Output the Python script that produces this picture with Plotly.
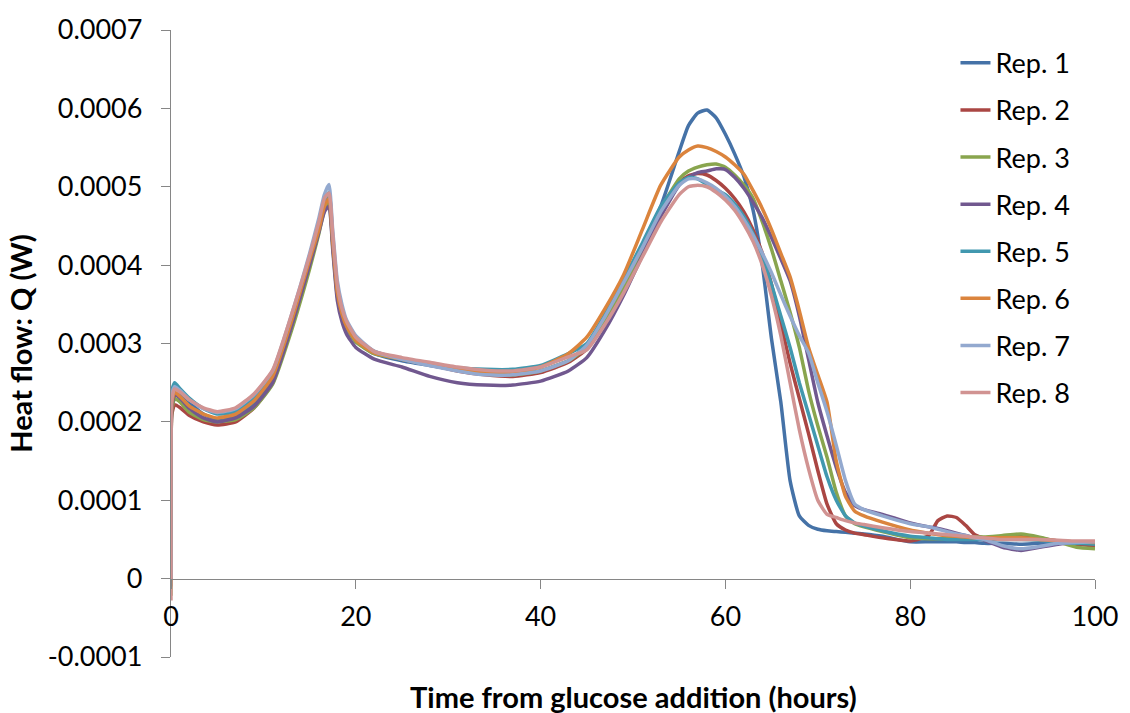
import plotly.graph_objects as go

# Time (hours) from glucose addition
time_h = [0, 0.1, 0.4, 1, 2, 3.5, 5, 7, 9, 11, 13, 15, 16, 16.6, 17.1, 17.5, 18, 18.5, 19, 20,
          22, 25, 28, 31, 34, 37, 40, 43, 45, 47, 49, 51, 53, 55, 56, 57, 58, 59, 60, 61,
          62, 63, 64, 65, 66, 67, 68, 69, 70, 71, 72, 73, 74, 75, 77, 80, 82, 83, 84, 85,
          86, 87, 88, 90, 92, 94, 96, 98, 100]

# Heat flow values (W)
rep1 = [0, 2.3e-4, 2.45e-4, 2.38e-4, 2.25e-4, 2.1e-4, 2.03e-4, 2.07e-4, 2.24e-4, 2.55e-4, 3.25e-4, 4.05e-4, 4.48e-4, 4.78e-4, 4.9e-4, 4.3e-4, 3.65e-4, 3.38e-4, 3.22e-4, 3.03e-4,
        2.87e-4, 2.78e-4, 2.72e-4, 2.66e-4, 2.61e-4, 2.6e-4, 2.65e-4, 2.78e-4, 2.98e-4, 3.35e-4, 3.8e-4, 4.25e-4, 4.75e-4, 5.45e-4, 5.78e-4, 5.94e-4, 5.98e-4, 5.88e-4, 5.67e-4, 5.42e-4,
        5.13e-4, 4.7e-4, 4.0e-4, 3.05e-4, 2.25e-4, 1.25e-4, 0.8e-4, 0.68e-4, 0.63e-4, 0.61e-4, 0.6e-4, 0.59e-4, 0.58e-4, 0.57e-4, 0.54e-4, 0.47e-4, 0.47e-4, 0.47e-4, 0.47e-4, 0.47e-4,
        0.46e-4, 0.46e-4, 0.45e-4, 0.45e-4, 0.44e-4, 0.45e-4, 0.45e-4, 0.46e-4, 0.47e-4]
rep2 = [-0.1e-4, 2.1e-4, 2.22e-4, 2.18e-4, 2.08e-4, 2.0e-4, 1.96e-4, 2.0e-4, 2.18e-4, 2.5e-4, 3.2e-4, 4.0e-4, 4.45e-4, 4.75e-4, 4.85e-4, 4.3e-4, 3.65e-4, 3.38e-4, 3.22e-4, 3.03e-4,
        2.88e-4, 2.8e-4, 2.73e-4, 2.65e-4, 2.6e-4, 2.58e-4, 2.63e-4, 2.76e-4, 2.93e-4, 3.28e-4, 3.72e-4, 4.2e-4, 4.72e-4, 5.05e-4, 5.14e-4, 5.17e-4, 5.15e-4, 5.08e-4, 4.98e-4, 4.85e-4,
        4.68e-4, 4.45e-4, 4.15e-4, 3.75e-4, 3.25e-4, 2.75e-4, 2.3e-4, 1.85e-4, 1.38e-4, 0.95e-4, 0.7e-4, 0.62e-4, 0.58e-4, 0.56e-4, 0.52e-4, 0.48e-4, 0.55e-4, 0.74e-4, 0.8e-4, 0.78e-4,
        0.68e-4, 0.56e-4, 0.52e-4, 0.53e-4, 0.55e-4, 0.52e-4, 0.48e-4, 0.44e-4, 0.42e-4]
rep3 = [-0.22e-4, 2.15e-4, 2.3e-4, 2.25e-4, 2.12e-4, 2.03e-4, 2.0e-4, 2.03e-4, 2.18e-4, 2.48e-4, 3.15e-4, 3.95e-4, 4.4e-4, 4.7e-4, 4.8e-4, 4.25e-4, 3.6e-4, 3.35e-4, 3.2e-4, 3.02e-4,
        2.87e-4, 2.8e-4, 2.73e-4, 2.66e-4, 2.61e-4, 2.6e-4, 2.65e-4, 2.78e-4, 2.95e-4, 3.3e-4, 3.72e-4, 4.2e-4, 4.72e-4, 5.1e-4, 5.2e-4, 5.25e-4, 5.28e-4, 5.29e-4, 5.25e-4, 5.15e-4,
        5.02e-4, 4.85e-4, 4.55e-4, 4.2e-4, 3.8e-4, 3.4e-4, 2.95e-4, 2.4e-4, 1.95e-4, 1.55e-4, 1.1e-4, 0.8e-4, 0.7e-4, 0.66e-4, 0.6e-4, 0.52e-4, 0.51e-4, 0.51e-4, 0.51e-4, 0.51e-4,
        0.52e-4, 0.53e-4, 0.53e-4, 0.55e-4, 0.57e-4, 0.53e-4, 0.47e-4, 0.4e-4, 0.38e-4]
rep4 = [0, 2.2e-4, 2.35e-4, 2.3e-4, 2.17e-4, 2.05e-4, 2.0e-4, 2.05e-4, 2.2e-4, 2.5e-4, 3.2e-4, 4.0e-4, 4.42e-4, 4.68e-4, 4.75e-4, 4.2e-4, 3.55e-4, 3.28e-4, 3.12e-4, 2.95e-4,
        2.8e-4, 2.7e-4, 2.58e-4, 2.5e-4, 2.47e-4, 2.47e-4, 2.52e-4, 2.65e-4, 2.82e-4, 3.18e-4, 3.62e-4, 4.12e-4, 4.62e-4, 5.02e-4, 5.12e-4, 5.18e-4, 5.2e-4, 5.23e-4, 5.22e-4, 5.12e-4,
        4.98e-4, 4.8e-4, 4.6e-4, 4.35e-4, 4.08e-4, 3.8e-4, 3.35e-4, 2.8e-4, 2.25e-4, 1.82e-4, 1.42e-4, 1.1e-4, 0.93e-4, 0.88e-4, 0.82e-4, 0.71e-4, 0.66e-4, 0.64e-4, 0.61e-4, 0.58e-4,
        0.55e-4, 0.52e-4, 0.49e-4, 0.4e-4, 0.36e-4, 0.4e-4, 0.44e-4, 0.46e-4, 0.47e-4]
rep5 = [0, 2.4e-4, 2.5e-4, 2.42e-4, 2.3e-4, 2.17e-4, 2.1e-4, 2.13e-4, 2.3e-4, 2.6e-4, 3.3e-4, 4.1e-4, 4.5e-4, 4.8e-4, 4.93e-4, 4.35e-4, 3.7e-4, 3.4e-4, 3.25e-4, 3.06e-4,
        2.9e-4, 2.8e-4, 2.74e-4, 2.69e-4, 2.67e-4, 2.67e-4, 2.72e-4, 2.87e-4, 3.0e-4, 3.38e-4, 3.82e-4, 4.28e-4, 4.75e-4, 5.05e-4, 5.12e-4, 5.1e-4, 5.03e-4, 4.96e-4, 4.9e-4, 4.78e-4,
        4.62e-4, 4.4e-4, 4.1e-4, 3.75e-4, 3.35e-4, 2.95e-4, 2.5e-4, 2.1e-4, 1.7e-4, 1.3e-4, 1.0e-4, 0.8e-4, 0.71e-4, 0.67e-4, 0.61e-4, 0.54e-4, 0.52e-4, 0.51e-4, 0.5e-4, 0.5e-4,
        0.5e-4, 0.5e-4, 0.5e-4, 0.5e-4, 0.5e-4, 0.49e-4, 0.47e-4, 0.45e-4, 0.44e-4]
rep6 = [0, 2.25e-4, 2.38e-4, 2.32e-4, 2.2e-4, 2.1e-4, 2.05e-4, 2.1e-4, 2.27e-4, 2.58e-4, 3.27e-4, 4.07e-4, 4.45e-4, 4.75e-4, 4.85e-4, 4.3e-4, 3.65e-4, 3.38e-4, 3.22e-4, 3.04e-4,
        2.88e-4, 2.8e-4, 2.73e-4, 2.67e-4, 2.63e-4, 2.63e-4, 2.7e-4, 2.87e-4, 3.08e-4, 3.45e-4, 3.88e-4, 4.45e-4, 5.02e-4, 5.38e-4, 5.47e-4, 5.52e-4, 5.5e-4, 5.45e-4, 5.38e-4, 5.28e-4,
        5.16e-4, 4.95e-4, 4.72e-4, 4.45e-4, 4.15e-4, 3.85e-4, 3.42e-4, 2.95e-4, 2.6e-4, 2.25e-4, 1.5e-4, 1.05e-4, 0.86e-4, 0.8e-4, 0.72e-4, 0.62e-4, 0.58e-4, 0.56e-4, 0.55e-4, 0.54e-4,
        0.53e-4, 0.52e-4, 0.52e-4, 0.52e-4, 0.52e-4, 0.5e-4, 0.48e-4, 0.47e-4, 0.46e-4]
rep7 = [0, 2.35e-4, 2.45e-4, 2.4e-4, 2.28e-4, 2.17e-4, 2.12e-4, 2.17e-4, 2.35e-4, 2.65e-4, 3.35e-4, 4.15e-4, 4.6e-4, 4.9e-4, 5.03e-4, 4.45e-4, 3.8e-4, 3.5e-4, 3.3e-4, 3.1e-4,
        2.9e-4, 2.8e-4, 2.72e-4, 2.65e-4, 2.6e-4, 2.6e-4, 2.65e-4, 2.78e-4, 2.98e-4, 3.35e-4, 3.78e-4, 4.22e-4, 4.68e-4, 5.02e-4, 5.1e-4, 5.1e-4, 5.05e-4, 4.98e-4, 4.88e-4, 4.75e-4,
        4.58e-4, 4.38e-4, 4.15e-4, 3.9e-4, 3.62e-4, 3.35e-4, 3.1e-4, 2.88e-4, 2.5e-4, 2.13e-4, 1.7e-4, 1.25e-4, 0.95e-4, 0.88e-4, 0.8e-4, 0.7e-4, 0.66e-4, 0.63e-4, 0.6e-4, 0.57e-4,
        0.55e-4, 0.52e-4, 0.5e-4, 0.42e-4, 0.38e-4, 0.41e-4, 0.45e-4, 0.46e-4, 0.47e-4]
rep8 = [-0.28e-4, 2.3e-4, 2.42e-4, 2.38e-4, 2.28e-4, 2.18e-4, 2.13e-4, 2.18e-4, 2.36e-4, 2.66e-4, 3.35e-4, 4.12e-4, 4.55e-4, 4.85e-4, 4.92e-4, 4.4e-4, 3.75e-4, 3.45e-4, 3.28e-4, 3.08e-4,
        2.9e-4, 2.82e-4, 2.76e-4, 2.7e-4, 2.66e-4, 2.65e-4, 2.7e-4, 2.83e-4, 2.92e-4, 3.25e-4, 3.65e-4, 4.1e-4, 4.55e-4, 4.9e-4, 5.0e-4, 5.02e-4, 5.0e-4, 4.93e-4, 4.83e-4, 4.7e-4,
        4.52e-4, 4.3e-4, 4.0e-4, 3.6e-4, 3.1e-4, 2.5e-4, 1.9e-4, 1.4e-4, 1.0e-4, 0.82e-4, 0.78e-4, 0.74e-4, 0.71e-4, 0.69e-4, 0.65e-4, 0.6e-4, 0.58e-4, 0.57e-4, 0.56e-4, 0.55e-4,
        0.54e-4, 0.53e-4, 0.52e-4, 0.5e-4, 0.5e-4, 0.5e-4, 0.49e-4, 0.48e-4, 0.48e-4]

series_names = ["Rep. 1", "Rep. 2", "Rep. 3", "Rep. 4", "Rep. 5", "Rep. 6", "Rep. 7", "Rep. 8"]
series_values = [rep1, rep2, rep3, rep4, rep5, rep6, rep7, rep8]
colors = ["#4572A7", "#AA4643", "#89A54E", "#71588F", "#4198AF", "#DB843D", "#93A9CF", "#D19392"]

y_tickvals = [-0.0001, 0, 0.0001, 0.0002, 0.0003, 0.0004, 0.0005, 0.0006, 0.0007]
y_ticktext = ["-0.0001", "0", "0.0001", "0.0002", "0.0003", "0.0004", "0.0005", "0.0006", "0.0007"]
x_tickvals = [0, 20, 40, 60, 80, 100]

FONT = "Lato"
AXIS_COLOR = "#868686"

fig = go.Figure()
for name, vals, col in zip(series_names, series_values, colors):
    fig.add_trace(go.Scatter(x=time_h, y=vals, mode="lines", name=name,
                             legendgroup=name,
                             line=dict(color=col, width=3.5, shape="spline", smoothing=0.5)))

fig.update_layout(
    width=1130, height=713,
    margin=dict(l=171, r=27, t=24, b=56),
    paper_bgcolor="white", plot_bgcolor="white",
    font=dict(family=FONT, size=27, color="black"),
    showlegend=True,
    legend=dict(x=0.849, y=0.986, xanchor="left", yanchor="top",
                font=dict(family=FONT, size=27, color="black"),
                tracegroupgap=9, bgcolor="rgba(0,0,0,0)"),
    xaxis=dict(range=[0, 100], tickvals=x_tickvals, showgrid=False, zeroline=False,
               showline=True, linecolor=AXIS_COLOR, linewidth=1.3,
               ticks="outside", ticklen=9, tickcolor=AXIS_COLOR, tickwidth=1.3,
               anchor="free", position=0.125, ticklabelstandoff=5,
               tickfont=dict(family=FONT, size=27, color="black")),
    yaxis=dict(range=[-0.0001, 0.0007], tickvals=y_tickvals, ticktext=y_ticktext,
               showgrid=False, zeroline=False,
               showline=True, linecolor=AXIS_COLOR, linewidth=1.3,
               ticks="outside", ticklen=9, tickcolor=AXIS_COLOR, tickwidth=1.3,
               ticklabelstandoff=13,
               tickfont=dict(family=FONT, size=27, color="black"),
               title=dict(text="<b>Heat flow: Q (W)</b>", standoff=6,
                          font=dict(family=FONT, size=29, color="black"))),
    annotations=[dict(text="<b>Time from glucose addition (hours)</b>", xref="paper", yref="paper",
                      x=0.5, y=-0.063, xanchor="center", yanchor="middle", showarrow=False,
                      font=dict(family=FONT, size=29, color="black"))],
)

fig.write_html("out.html")
